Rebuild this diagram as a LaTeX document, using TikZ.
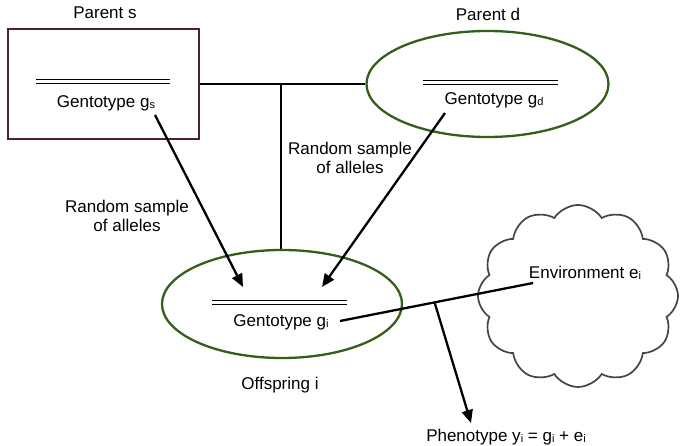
\documentclass[tikz,border=0pt]{standalone}
\usepackage{fontspec}
\setmainfont{Liberation Sans}
\usetikzlibrary{shapes.geometric,shapes.symbols,arrows.meta,calc}
\definecolor{boxred}{RGB}{78,32,52}
\definecolor{ovalgreen}{RGB}{52,94,26}
\definecolor{cloudgray}{RGB}{68,68,68}
\newcommand\lowsub[1]{\raisebox{-1.2pt}{\fontsize{11}{12}\selectfont #1}}
\tikzset{
  lbl/.style={font=\fontsize{17}{19}\selectfont, inner sep=0pt, align=center},
  wire/.style={line width=2.3pt, black},
  arr/.style={wire, -{Triangle[length=13pt,width=11pt]}},
  bar/.style={line width=1pt, double distance=3.5pt, black},
  parentbox/.style={draw=boxred, line width=2.3pt, minimum width=191pt, minimum height=110pt, inner sep=0pt},
  oval/.style={ellipse, draw=ovalgreen, line width=2.3pt, inner sep=0pt},
}
\begin{document}
\begin{tikzpicture}[x=1pt,y=-1pt]
\useasboundingbox (0,0) rectangle (681,446);

% parents
\node[parentbox] (ps) at (103.5,84) {};
\node[oval, minimum width=242pt, minimum height=106pt] (pd) at (487.5,84) {};
\node[lbl] (pslabel) at (105,13) {Parent s};
\node[lbl] (pdlabel) at (488,14) {Parent d};

% offspring
\node[oval, minimum width=240pt, minimum height=108pt] (off) at (282,304) {};
\node[lbl] (offlabel) at (280,385) {Offspring i};

% environment
\node[cloud, cloud puffs=12, cloud puff arc=115, draw=cloudgray, line width=1.7pt,
      minimum width=200pt, minimum height=182pt, inner sep=0pt] (env) at (578,296) {};

% genotype bars and labels
\draw[bar] (36,81.5) -- (170,81.5);
\draw[bar] (423,82.5) -- (558,82.5);
\draw[bar] (212,302.5) -- (347,302.5);
\node[lbl] (gs) at (106,103) {Gentotype g\lowsub{s}};
\node[lbl] (gd) at (494,100) {Gentotype g\lowsub{d}};
\node[lbl] (gi) at (281,322) {Gentotype g\lowsub{i}};
\node[lbl] (ei) at (585,273) {Environment e\lowsub{i}};
\node[lbl] (yi) at (506,437) {Phenotype y\lowsub{i} = g\lowsub{i} + e\lowsub{i}};

% sampling labels
\node[lbl] (sampleS) at (127,216) {Random sample\\of alleles};
\node[lbl] (sampleD) at (350,158) {Random sample\\of alleles};

% mating line
\coordinate (mate) at (281,84);
\draw[wire] (ps.east) -- (pd.west);
\draw[wire] (mate) -- (off.north -| mate);

% inheritance arrows
\coordinate (fromS) at (155,115);
\coordinate (toS) at (243,287);
\coordinate (fromD) at (445,113);
\coordinate (toD) at (322,287);
\draw[arr] (fromS) -- (toS);
\draw[arr] (fromD) -- (toD);

% genotype + environment -> phenotype
\coordinate (giEnd) at (340,321);
\coordinate (eiEnd) at (533,283);
\coordinate (join) at ($(giEnd)!0.49!(eiEnd)$);
\coordinate (phen) at (471,423);
\draw[wire] (giEnd) -- (eiEnd);
\draw[arr] (join) -- (phen);
\end{tikzpicture}
\end{document}
